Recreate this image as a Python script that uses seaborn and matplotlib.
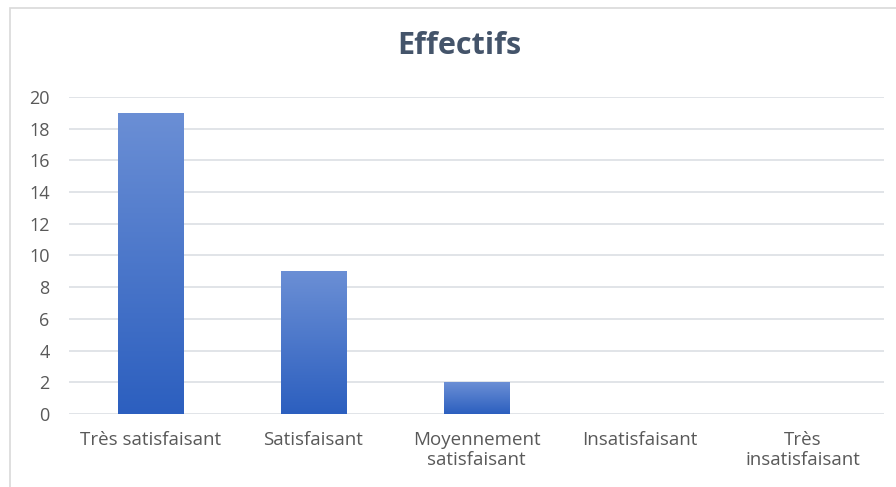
import numpy as np
import pandas as pd
import matplotlib
matplotlib.use("Agg")
import matplotlib.pyplot as plt
import seaborn as sns
from matplotlib.colors import LinearSegmentedColormap
from matplotlib.patches import Rectangle

categories = ["Très satisfaisant", "Satisfaisant", "Moyennement\nsatisfaisant",
              "Insatisfaisant", "Très\ninsatisfaisant"]
effectifs = [19, 9, 2, 0, 0]
yticks = list(range(0, 21, 2))

df = pd.DataFrame({"cat": categories, "n": effectifs})

sns.set_theme(style="white")
plt.rcParams["font.family"] = ["Open Sans", "DejaVu Sans"]

fig = plt.figure(figsize=(8.96, 4.87), dpi=100)
ax = fig.add_axes([0.077, 0.150, 0.9096, 0.651])

sns.barplot(data=df, x="cat", y="n", ax=ax, width=0.4, color="#4472c4",
            edgecolor="none")

# gradient fill on every bar
grad = LinearSegmentedColormap.from_list("g", ["#2c5fbf", "#6b8fd5"])
img = np.linspace(0, 1, 256).reshape(-1, 1)
for p in ax.patches:
    h = p.get_height()
    if h <= 0:
        continue
    x0, w = p.get_x(), p.get_width()
    p.set_facecolor("none")
    im = ax.imshow(img, cmap=grad, origin="lower", aspect="auto",
                   extent=[x0, x0 + w, 0, h], zorder=2)
    im.set_clip_path(p)

ax.set_xlim(-0.5, 4.5)
ax.set_ylim(0, 20)
ax.set_yticks(yticks)
ax.yaxis.grid(True, color="#dcdfe4", linewidth=1.2)
ax.set_axisbelow(True)
for s in ax.spines.values():
    s.set_visible(False)
ax.set_xlabel("")
ax.set_ylabel("")
ax.tick_params(axis="y", length=0, pad=14, labelsize=13, labelcolor="#595959")
ax.tick_params(axis="x", length=0, pad=12, labelsize=13.5, labelcolor="#595959")
for t in ax.get_xticklabels():
    t.set_horizontalalignment("center")
    t.set_linespacing(1.2)

fig.text(0.513, 0.905, "Effectifs", ha="center", va="center", fontsize=22,
         fontweight="bold", color="#44546a")

# chart frame
fig.patches.append(Rectangle((10 / 896, -0.1), 1.2, 1 - 8 / 487 + 0.1,
                             transform=fig.transFigure, fill=False,
                             edgecolor="#d9d9d9", linewidth=1.2))

fig.savefig("out.png", dpi=100)
